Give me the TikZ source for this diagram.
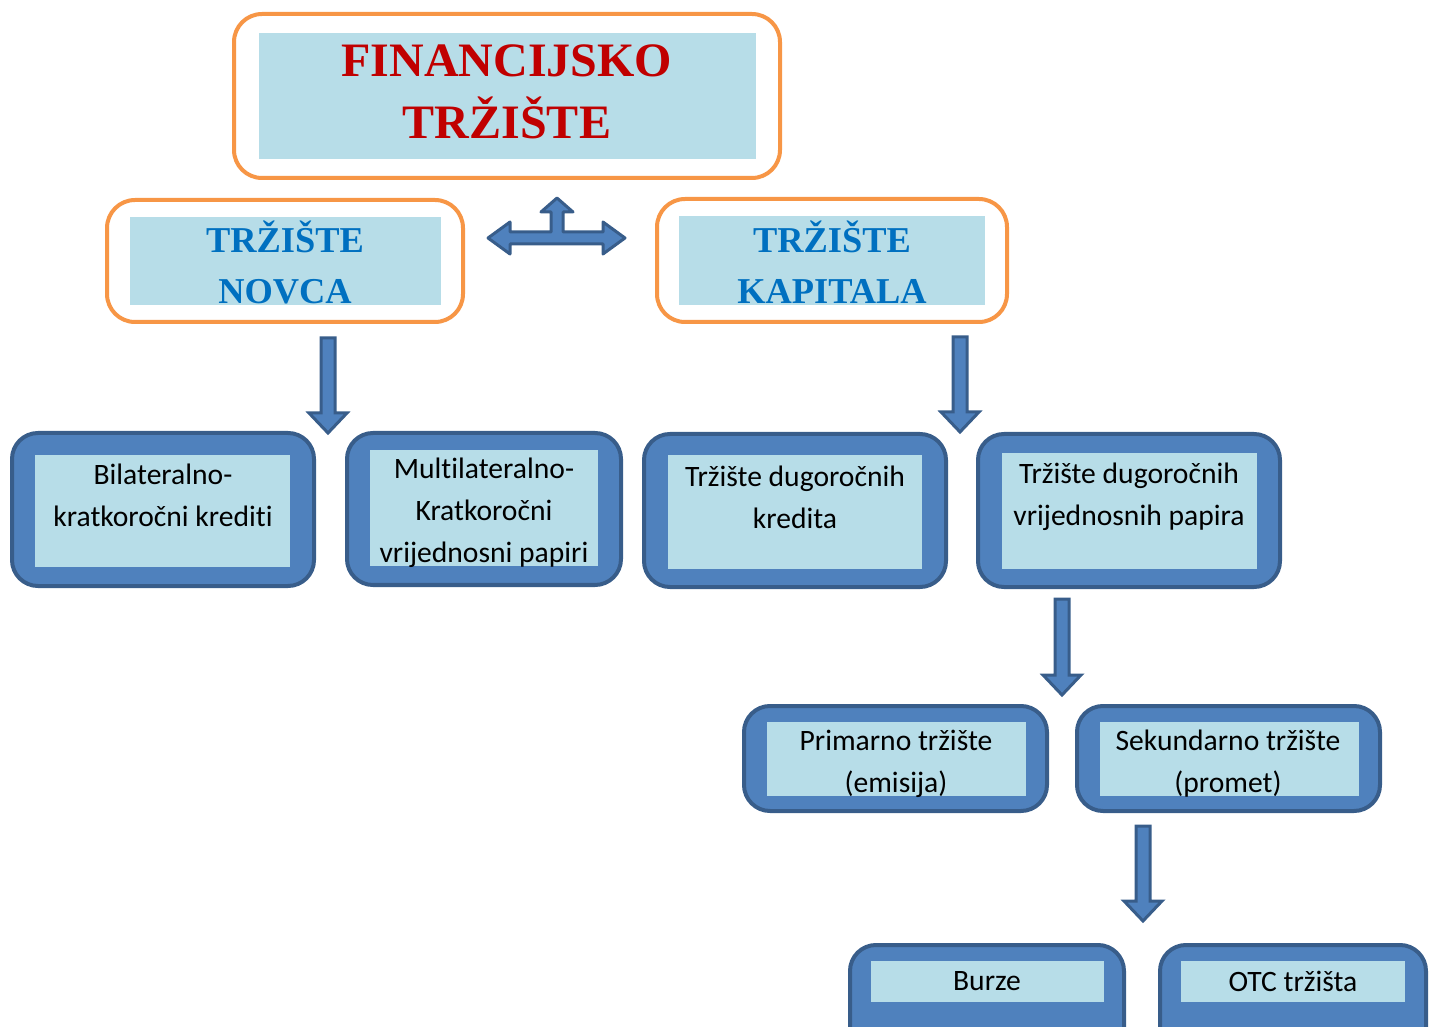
\documentclass[tikz,border=0pt]{standalone}
\usepackage{fontspec}
\setmainfont{Carlito}[Ligatures=NoCommon]
\newfontfamily\headfont{Liberation Serif}
\usetikzlibrary{calc,fit}
\definecolor{lblue}{HTML}{B7DDE8}
\definecolor{orng}{HTML}{F79646}
\definecolor{bfill}{HTML}{4F81BD}
\definecolor{bdark}{HTML}{385D8A}
\definecolor{tred}{HTML}{C00000}
\definecolor{tblue}{HTML}{0070C0}
\newcommand\blockdown[2]{%
  \filldraw[fill=bfill,draw=bdark,line width=1.5pt,line join=miter]
    let \p1=(#1),\p2=(#2) in
    (\x1-3.5pt,\y1) -- (\x1+3.5pt,\y1) -- (\x1+3.5pt,\y2+10pt) -- (\x1+9.5pt,\y2+10pt)
    -- (\x2,\y2) -- (\x1-9.5pt,\y2+10pt) -- (\x1-3.5pt,\y2+10pt) -- cycle;}
\begin{document}
\begin{tikzpicture}[x=0.5pt,y=-0.5pt,
  orangebox/.style={draw=orng,line width=2pt,fill=white,rounded corners=14pt,inner sep=0pt},
  bluebox/.style={draw=bdark,line width=2pt,fill=bfill,rounded corners=13pt,inner sep=0pt},
  inner/.style={fill=lblue,inner sep=0pt},
  txt/.style={align=center,inner sep=0pt,font=\fontsize{14.8}{21}\selectfont},
  head/.style={align=center,inner sep=0pt,font=\headfont\bfseries\fontsize{18.2}{25.5}\selectfont,text=tblue},
  title/.style={align=center,inner sep=0pt,font=\headfont\bfseries\fontsize{24}{31}\selectfont,text=tred}]
\useasboundingbox (0,0) rectangle (1437,1027);
\clip (0,0) rectangle (1437,1027);
% top
\node[orangebox,fit={(234,14)(780,178)}] (top) {};
\node[inner,fit={(259,33)(756,159)}] (topin) {};
\node[title] (toptxt) at (507,92) {FINANCIJSKO\\TRŽIŠTE};
% second level
\node[orangebox,fit={(107,200)(463,322)}] (novca) {};
\node[inner,fit={(130,217)(441,305)}] (novcain) {};
\node[head] (novcatxt) at (285,262) {TRŽIŠTE\\NOVCA};
\node[orangebox,fit={(657,199)(1007,322)}] (kap) {};
\node[inner,fit={(679,216)(985,305)}] (kapin) {};
\node[head] (kaptxt) at (832,262) {TRŽIŠTE\\KAPITALA};
% double arrow
\coordinate (dl) at (488,238);
\coordinate (dr) at (625,238);
\coordinate (du) at (557,198);
\filldraw[fill=bfill,draw=bdark,line width=1.5pt,line join=round]
  (dl) -- ++(22,-16) -- ++(0,10) -- (551,232) -- (551,212) -- (541,212) -- (du)
  -- (573,212) -- (563,212) -- (563,232) -- (603,232) -- (603,222) -- (dr)
  -- (603,254) -- (603,244) -- (510,244) -- (510,254) -- cycle;
% row 1
\node[bluebox,fit={(12,433)(314,586)}] (ba) {};
\node[inner,fit={(35,455)(290,567)}] (bain) {};
\node[txt] (bat) at (163,495) {Bilateralno-\\kratkoročni krediti};
\node[bluebox,fit={(347,433)(621,585)}] (bb) {};
\node[inner,fit={(370,450)(598,566)}] (bbin) {};
\node[txt] (bbt) at (484,513) {Multilateralno-\\Kratkoročni\\vrijednosni papiri};
\node[bluebox,fit={(644,434)(946,587)}] (bc) {};
\node[inner,fit={(668,455)(922,569)}] (bcin) {};
\node[txt] (bct) at (795,497) {Tržište dugoročnih\\kredita};
\node[bluebox,fit={(978,434)(1280,587)}] (bd) {};
\node[inner,fit={(1002,453)(1257,569)}] (bdin) {};
\node[txt] (bdt) at (1129,497) {Tržište dugoročnih\\vrijednosnih papira};
% row 2
\node[bluebox,fit={(744,706)(1047,811)}] (be) {};
\node[inner,fit={(767,722)(1026,796)}] (bein) {};
\node[txt] (bet) at (896,764) {Primarno tržište\\(emisija)};
\node[bluebox,fit={(1077,706)(1380,811)}] (bf) {};
\node[inner,fit={(1100,722)(1359,796)}] (bfin) {};
\node[txt] (bft) at (1228,764) {Sekundarno tržište\\(promet)};
% row 3
\node[bluebox,fit={(850,945)(1124,1060)}] (bg) {};
\node[inner,fit={(871,961)(1104,1002)}] (bgin) {};
\node[txt] (bgt) at (987,981) {Burze};
\node[bluebox,fit={(1160,945)(1426,1060)}] (bh) {};
\node[inner,fit={(1181,961)(1405,1002)}] (bhin) {};
\node[txt] (bht) at (1293,981) {OTC tržišta};
% block arrows
\coordinate (a1s) at (328,338); \coordinate (a1e) at (328,433);
\coordinate (a2s) at (960,337); \coordinate (a2e) at (960,432);
\coordinate (a3s) at (1062,599); \coordinate (a3e) at (1062,695);
\coordinate (a4s) at (1143,826); \coordinate (a4e) at (1143,921);
\blockdown{a1s}{a1e}
\blockdown{a2s}{a2e}
\blockdown{a3s}{a3e}
\blockdown{a4s}{a4e}
\end{tikzpicture}
\end{document}
